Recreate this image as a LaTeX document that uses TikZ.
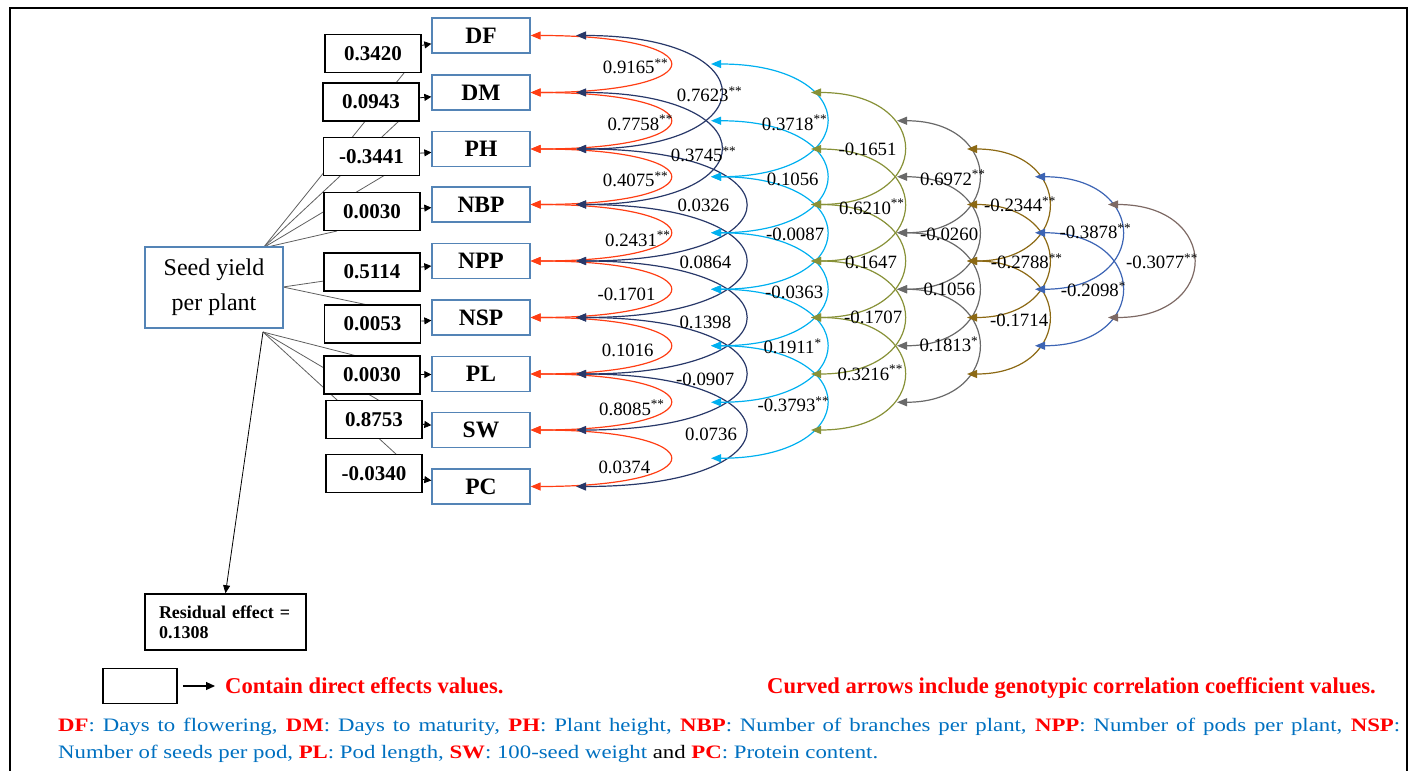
\documentclass[tikz,border=0pt]{standalone}
\usepackage{fontspec}
\setmainfont{Liberation Serif}
\newfontfamily\legfont{Liberation Serif}[FakeStretch=1.2]
\usetikzlibrary{arrows.meta}
\definecolor{boxblue}{RGB}{84,132,182}
\definecolor{cred}{RGB}{255,62,20}
\definecolor{cnavy}{RGB}{40,56,105}
\definecolor{ccyan}{RGB}{0,176,240}
\definecolor{colive}{RGB}{135,145,55}
\definecolor{cgray}{RGB}{105,105,105}
\definecolor{cbrown}{RGB}{140,105,20}
\definecolor{cblue}{RGB}{60,100,180}
\definecolor{clast}{RGB}{125,105,100}
\definecolor{linegray}{RGB}{95,95,95}
\definecolor{txtblue}{RGB}{0,112,192}
\definecolor{txtred}{RGB}{255,0,0}
\newcommand{\dstar}{\textsuperscript{**}}
\newcommand{\sstar}{\textsuperscript{*}}
\newcommand{\rd}[1]{{\color{txtred}\bfseries #1}}
\begin{document}
\begin{tikzpicture}[x=1pt,y=-1pt,
  varbox/.style={draw=boxblue, line width=1.3pt, fill=white, minimum width=98pt, minimum height=35pt, inner sep=0pt, font=\fontsize{23.5}{26}\selectfont\bfseries},
  valbox/.style={draw=black, line width=1.8pt, fill=white, minimum width=96pt, minimum height=38pt, inner sep=0pt, font=\fontsize{21}{24}\selectfont\bfseries},
  lab/.style={anchor=base west, inner sep=0pt, font=\fontsize{18.8}{22}\selectfont},
  conn/.style={draw=linegray, line width=0.8pt},
  arcb/.style={line width=1.2pt, {Triangle[length=10pt,width=8pt]}-{Triangle[length=10pt,width=8pt]}},
  smallarrow/.style={draw=black, line width=0.8pt, -{Triangle[length=7pt,width=7pt]}},
  legred/.style={anchor=base west, inner sep=0pt, text=txtred, font=\fontsize{22.6}{24}\selectfont\bfseries}
]
\useasboundingbox (0,0) rectangle (1409,771);
% frame
\draw[line width=2.4pt] (10,771) -- (10,8) -- (1407,8) -- (1407,771);

% connection points of the seed box
\coordinate (P) at (263,248);
\coordinate (Q) at (283,287);
\coordinate (R) at (263,332);
\coordinate (t1) at (404,73);
\coordinate (t2) at (399,121);
\coordinate (t3) at (385,175);
\coordinate (t4) at (337,231);
\coordinate (t5) at (324,281);
\coordinate (t6) at (368,305);
\coordinate (t7) at (357,356);
\coordinate (t8) at (380,401);
\coordinate (t9) at (397,455);
\foreach \t in {t1,t2,t3,t4} \draw[conn] (P) -- (\t);
\foreach \t in {t5,t6} \draw[conn] (Q) -- (\t);
\foreach \t in {t7,t8,t9} \draw[conn] (R) -- (\t);

% seed yield box
\node[draw=boxblue, line width=1.3pt, fill=white, minimum width=138pt, minimum height=81pt, align=center, font=\fontsize{24}{35}\selectfont] (seed) at (214,287.5) {Seed yield\\per plant};

% variable boxes
\foreach \n/\y/\t in {0/35.5/DF,1/92.5/DM,2/149/PH,3/204.5/NBP,4/261/NPP,5/317.5/NSP,6/374/PL,7/430/SW,8/486.5/PC}
  \node[varbox] (V\n) at (481,\y) {\t};

% value boxes
\foreach \n/\x/\y/\t in {0/373/53.5/0.3420,1/371/102/0.0943,2/371.5/156.5/-0.3441,3/372/211.5/0.0030,4/372/272/0.5114,5/372.5/324/0.0053,6/372/375/0.0030,7/374/419.5/0.8753,8/374/473.5/-0.0340}
  \node[valbox] (B\n) at (\x,\y) {\t};
\foreach \n in {0,...,8} \draw[smallarrow] (B\n) -- (V\n);

% residual
\node[draw=black, line width=1.5pt, minimum width=161pt, minimum height=56pt, inner xsep=14pt, text width=133pt, align=left, font=\fontsize{18}{20}\selectfont\bfseries] (res) at (225.5,622) {Residual effect =\\0.1308};
\draw[draw=black, line width=0.8pt, -{Triangle[length=8pt,width=7pt]}] (R) -- (res.north);

% arc end points
\foreach \i/\y in {0/35.5,1/92.5,2/149,3/204.5,4/261,5/317.5,6/374,7/430,8/486.5}{
  \coordinate (n\i) at (576,\y);
  \coordinate (ol\i) at (811,\y);
  \coordinate (br\i) at (967,\y);
  \coordinate (la\i) at (1108,\y);
}
\foreach \i/\y in {0/64,1/120.75,2/176.75,3/232.75,4/289.25,5/345.75,6/402.25,7/458.25}{
  \coordinate (cy\i) at (711,\y);
  \coordinate (gr\i) at (897,\y);
  \coordinate (bl\i) at (1035,\y);
}

% arcs
\foreach \i/\j in {0/1,1/2,2/3,3/4,4/5,5/6,6/7,7/8}
  \draw[arcb, cred] (V\i.east) .. controls +(185,0) and +(185,0) .. (V\j.east);
\foreach \i/\j/\c in {0/2/192,1/3/192,2/4/225,3/5/225,4/6/225,5/7/225,6/8/225}
  \draw[arcb, cnavy] (n\i) .. controls +(\c,0) and +(\c,0) .. (n\j);
\foreach \i/\j in {0/2,1/3,2/4,3/5,4/6,5/7}
  \draw[arcb, ccyan] (cy\i) .. controls +(153,0) and +(153,0) .. (cy\j);
\foreach \i/\j in {1/3,2/4,3/5,4/6,5/7}
  \draw[arcb, colive] (ol\i) .. controls +(123,0) and +(123,0) .. (ol\j);
\foreach \i/\j in {1/3,2/4,3/5,4/6}
  \draw[arcb, cgray] (gr\i) .. controls +(108,0) and +(108,0) .. (gr\j);
\foreach \i/\j in {2/4,3/5,4/6}
  \draw[arcb, cbrown] (br\i) .. controls +(108,0) and +(108,0) .. (br\j);
\foreach \i/\j in {2/4,3/5}
  \draw[arcb, cblue] (bl\i) .. controls +(115,0) and +(115,0) .. (bl\j);
\draw[arcb, clast] (la3) .. controls +(113,0) and +(113,0) .. (la5);

% correlation labels
\foreach \x/\y/\t [count=\k] in {
  602.7/66.7/0.9165\dstar, 607.3/123.3/0.7758\dstar, 602.7/180/0.4075\dstar, 605/239.3/0.2431\dstar,
  597.3/293.3/-0.1701, 601.7/350/0.1016, 599/408.3/0.8085\dstar, 598.3/466.7/0.0374,
  676.7/95/0.7623\dstar, 670.7/155/0.3745\dstar, 677.3/205/0.0326, 679.3/262/0.0864,
  679.3/321.7/0.1398, 676/378.3/-0.0907, 685/433.3/0.0736,
  761.7/123.3/0.3718\dstar, 766.7/178.3/0.1056, 766/233.3/-0.0087, 765/291.7/-0.0363,
  763.3/346.7/0.1911\sstar, 757.3/405/-0.3793\dstar,
  838.3/148.3/-0.1651, 839/207.3/0.6210\dstar, 845/261.7/0.1647, 844/316.7/-0.1707, 837.3/373.3/0.3216\dstar,
  920/178.3/0.6972\dstar, 920/233.3/-0.0260, 923.3/288.3/0.1056, 919.3/345/0.1813\sstar,
  984/205/-0.2344\dstar, 990.7/261.7/-0.2788\dstar, 990/319.3/-0.1714,
  1059.3/231.7/-0.3878\dstar, 1060.7/290/-0.2098\sstar,
  1126/261.7/-0.3077\dstar}
  \node[lab] (L\k) at (\x,\y+6.7) {\t};

% legend
\node[draw=black, line width=1.5pt, minimum width=74pt, minimum height=35pt, inner sep=0pt] (lg) at (140,686) {};
\coordinate (lgend) at (215,686);
\draw[draw=black, line width=1.2pt, -{Triangle[length=9pt,width=8pt]}] ([xshift=5pt]lg.east) -- (lgend);
\node[legred] (ct) at (225,693) {Contain direct effects values.};
\node[legred] (cv) at (767,693) {Curved arrows include genotypic correlation coefficient values.};

\node[anchor=base west, inner sep=0pt, align=left, text=txtblue, font=\legfont\fontsize{19}{27}\selectfont] (abbr) at (58,758)
{\makebox[1342pt][s]{\rd{DF}: Days to flowering, \rd{DM}: Days to maturity, \rd{PH}: Plant height, \rd{NBP}: Number of branches per plant, \rd{NPP}: Number of pods per plant, \rd{NSP}:}\\
Number of seeds per pod, \rd{PL}: Pod length, \rd{SW}: 100-seed weight {\color{black}and} \rd{PC}: Protein content.};
\end{tikzpicture}
\end{document}
